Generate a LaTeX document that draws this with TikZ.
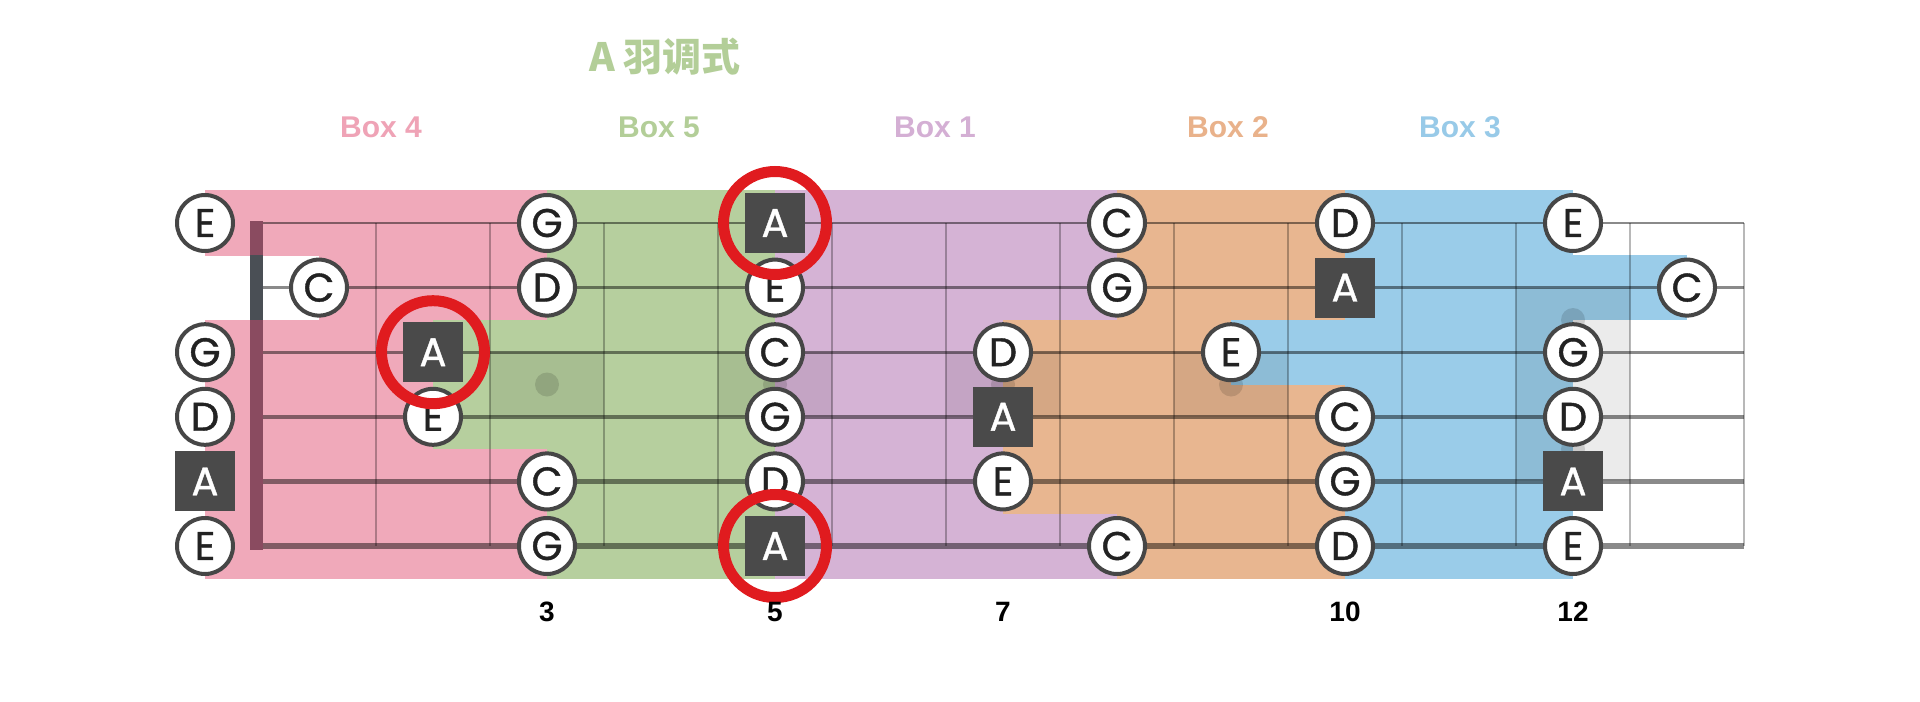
\documentclass[tikz,border=0pt]{standalone}
\usepackage{fontspec}
\setmainfont{Liberation Sans}
\newfontfamily\notefont{Poppins}[FakeBold=1]
\newfontfamily\cjk{Noto Sans CJK SC}
\definecolor{pinkbox}{HTML}{F0A9BA}
\definecolor{greenbox}{HTML}{B6CF9E}
\definecolor{purplebox}{HTML}{D5B3D5}
\definecolor{orangebox}{HTML}{E8B690}
\definecolor{bluebox}{HTML}{9ACCE9}
\definecolor{pinklab}{HTML}{EFA3B6}
\definecolor{greenlab}{HTML}{B3CE98}
\definecolor{purplelab}{HTML}{D4AFD4}
\definecolor{orangelab}{HTML}{E9B28B}
\definecolor{bluelab}{HTML}{98CAE8}
\definecolor{notebd}{HTML}{464646}
\definecolor{notetx}{HTML}{222222}
\definecolor{rootfill}{HTML}{4A4A4A}
\definecolor{ringred}{HTML}{E01B1F}
\definecolor{nutgray}{HTML}{4A4F55}
\definecolor{nutpink}{HTML}{8A4B60}
% band: colour, string, from fret, to fret
\newcommand\band[4]{\fill[#1] ({205+114*#3},{223+64.6*(#2-1)-32.6}) rectangle ({205+114*#4},{223+64.6*(#2-1)+32.6});}
% note: style, string, fret, letter
\newcommand\nt[4]{\node[#1] (n#2-#3) at ({205+114*#3},{223+64.6*(#2-1)}) {#4};}
\begin{document}
\begin{tikzpicture}[x=0.5pt,y=-0.5pt,
  note/.style={circle,draw=notebd,line width=2pt,fill=white,minimum size=28pt,inner sep=0pt,font=\notefont\fontsize{20}{20}\selectfont,text=notetx},
  root/.style={rectangle,fill=rootfill,minimum size=30pt,inner sep=0pt,font=\notefont\fontsize{20}{20}\selectfont,text=white},
  ring/.style={circle,draw=ringred,line width=5.5pt,minimum size=51.5pt,inner sep=0pt},
  boxlabel/.style={font=\bfseries\fontsize{15}{15}\selectfont},
  fretnum/.style={font=\bfseries\fontsize{14}{14}\selectfont,text=black},
  inlay/.style={fill=black,fill opacity=0.08},
  dot/.style={fill=black,fill opacity=0.13},
  fretline/.style={draw=black,draw opacity=0.28,line width=1.2pt},
  stringline/.style={draw=black,draw opacity=0.46}]
\useasboundingbox (0,0) rectangle (1920,701);
\fill[white] (0,0) rectangle (1920,701);
% Box 4
\band{pinkbox}{1}{0}{3}
\band{pinkbox}{2}{1}{3}
\band{pinkbox}{3}{0}{2}
\band{pinkbox}{4}{0}{2}
\band{pinkbox}{5}{0}{3}
\band{pinkbox}{6}{0}{3}
% Box 5
\band{greenbox}{1}{3}{5}
\band{greenbox}{2}{3}{5}
\band{greenbox}{3}{2}{5}
\band{greenbox}{4}{2}{5}
\band{greenbox}{5}{3}{5}
\band{greenbox}{6}{3}{5}
% Box 1
\band{purplebox}{1}{5}{8}
\band{purplebox}{2}{5}{8}
\band{purplebox}{3}{5}{7}
\band{purplebox}{4}{5}{7}
\band{purplebox}{5}{5}{7}
\band{purplebox}{6}{5}{8}
% Box 2
\band{orangebox}{1}{8}{10}
\band{orangebox}{2}{8}{10}
\band{orangebox}{3}{7}{9}
\band{orangebox}{4}{7}{10}
\band{orangebox}{5}{7}{10}
\band{orangebox}{6}{8}{10}
% Box 3
\band{bluebox}{1}{10}{12}
\band{bluebox}{2}{10}{13}
\band{bluebox}{3}{9}{12}
\band{bluebox}{4}{10}{12}
\band{bluebox}{5}{10}{12}
\band{bluebox}{6}{10}{12}
% inlays
\fill[inlay] (490,352.2) rectangle (604,416.8);
\fill[inlay] (718,352.2) rectangle (832,416.8);
\fill[inlay] (946,352.2) rectangle (1060,416.8);
\fill[inlay] (1174,352.2) rectangle (1288,416.8);
\fill[inlay] (1516,287.6) rectangle (1630,481.4);
\foreach \dx/\dy in {547/384.5,775/384.5,1003/384.5,1231/384.5,1573/320,1573/449}
  \fill[dot] (\dx,\dy) circle (6pt);
% frets
\foreach \k in {1,...,13}
  \draw[fretline] ({262+114*\k},223) -- ({262+114*\k},546);
% strings
\foreach \s/\w in {1/1.1pt,2/1.35pt,3/1.65pt,4/1.95pt,5/2.25pt,6/2.6pt}
  \draw[stringline,line width=\w] (256,{223+64.6*(\s-1)}) -- (1744,{223+64.6*(\s-1)});
% nut
\fill[nutpink] (250,221) rectangle (263,550);
\fill[nutgray] (250,255.3) rectangle (263,319.9);
% notes
\nt{note}{1}{0}{E}
\nt{note}{1}{3}{G}
\nt{root}{1}{5}{A}
\nt{note}{1}{8}{C}
\nt{note}{1}{10}{D}
\nt{note}{1}{12}{E}
\nt{note}{2}{1}{C}
\nt{note}{2}{3}{D}
\nt{note}{2}{5}{E}
\nt{note}{2}{8}{G}
\nt{root}{2}{10}{A}
\nt{note}{2}{13}{C}
\nt{note}{3}{0}{G}
\nt{root}{3}{2}{A}
\nt{note}{3}{5}{C}
\nt{note}{3}{7}{D}
\nt{note}{3}{9}{E}
\nt{note}{3}{12}{G}
\nt{note}{4}{0}{D}
\nt{note}{4}{2}{E}
\nt{note}{4}{5}{G}
\nt{root}{4}{7}{A}
\nt{note}{4}{10}{C}
\nt{note}{4}{12}{D}
\nt{root}{5}{0}{A}
\nt{note}{5}{3}{C}
\nt{note}{5}{5}{D}
\nt{note}{5}{7}{E}
\nt{note}{5}{10}{G}
\nt{root}{5}{12}{A}
\nt{note}{6}{0}{E}
\nt{note}{6}{3}{G}
\nt{root}{6}{5}{A}
\nt{note}{6}{8}{C}
\nt{note}{6}{10}{D}
\nt{note}{6}{12}{E}
% red rings
\node[ring] (r1) at (n1-5) {};
\node[ring] (r2) at (n3-2) {};
\node[ring] (r3) at (n6-5) {};
% labels
\node[font=\cjk\bfseries\fontsize{19.5}{19.5}\selectfont,text=greenlab] (title) at (665,57) {A 羽调式};
\node[boxlabel,text=pinklab] (b4) at (381,127) {Box 4};
\node[boxlabel,text=greenlab] (b5) at (659,127) {Box 5};
\node[boxlabel,text=purplelab] (b1) at (935,127) {Box 1};
\node[boxlabel,text=orangelab] (b2) at (1228,127) {Box 2};
\node[boxlabel,text=bluelab] (b3) at (1460,127) {Box 3};
\node[fretnum] (f3) at (547,612) {3};
\node[fretnum] (f5) at (775,612) {5};
\node[fretnum] (f7) at (1003,612) {7};
\node[fretnum] (f10) at (1345,612) {10};
\node[fretnum] (f12) at (1573,612) {12};
\end{tikzpicture}
\end{document}
